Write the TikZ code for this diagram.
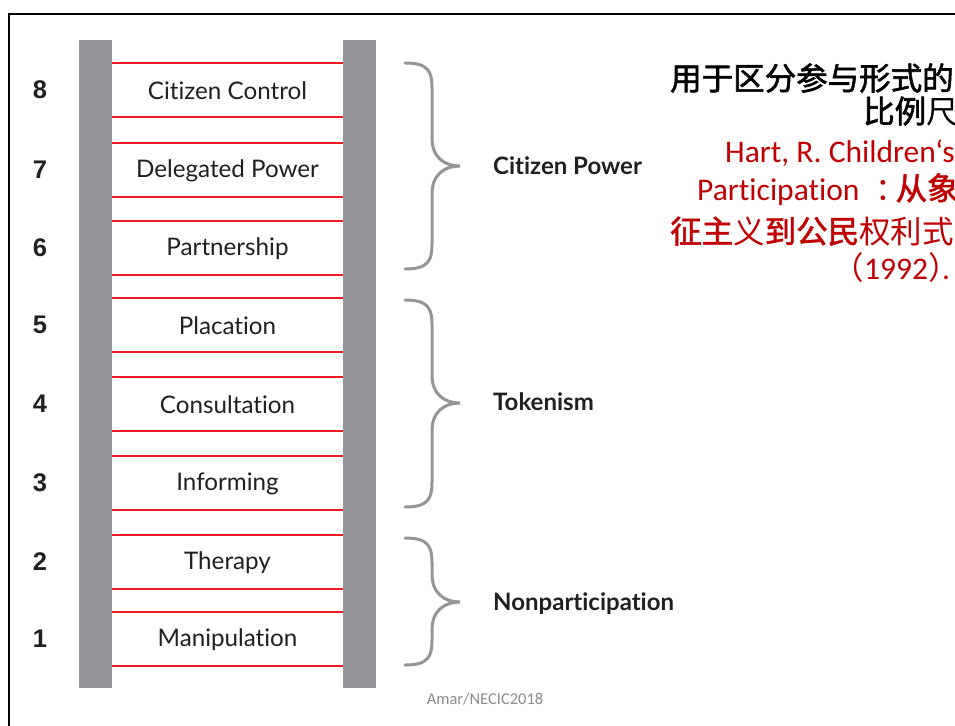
\documentclass[tikz,border=0pt]{standalone}
\usepackage{fontspec}
\newfontfamily\lat[Ligatures=NoCommon]{Lato}
\newfontfamily\numf{Liberation Sans}
\newfontfamily\calf[Ligatures=NoCommon]{Carlito}
\newfontfamily\cjk{Noto Sans CJK SC}
\newfontfamily\cjkb[FakeBold=1.8]{Noto Sans CJK SC}
\definecolor{railgray}{HTML}{939598}
\definecolor{rungred}{HTML}{ED1C24}
\definecolor{txt}{HTML}{231F20}
\definecolor{cred}{HTML}{C00000}
\definecolor{footgray}{HTML}{8C8C8C}
\begin{document}
\begin{tikzpicture}[x=1pt,y=-1pt,
  rail/.style={fill=railgray,draw=none},
  rung/.style={draw=rungred,line width=1.6pt},
  lbl/.style={font=\lat\fontsize{24.2}{28}\selectfont,text=txt,inner sep=0pt},
  num/.style={font=\numf\bfseries\fontsize{25.5}{28}\selectfont,text=txt,inner sep=0pt},
  grp/.style={font=\lat\bfseries\fontsize{24}{28}\selectfont,text=txt,anchor=west,inner sep=0pt},
  bracestyle/.style={draw=railgray,line width=3pt,line cap=round},
  rtxt/.style={anchor=base west,inner sep=0pt,font=\fontsize{31.5}{35}\selectfont}
]
\useasboundingbox (0,0) rectangle (955,725);
\fill[white] (0,0) rectangle (955,725);
% frame
\draw[line width=2.6pt,black] (9,14) rectangle (1000,800);
% rails
\fill[rail] (79,40) rectangle (112,688);
\fill[rail] (343,40) rectangle (376,688);
% rungs, labels, numbers
\foreach \t/\b/\n/\l in {63/117/8/Citizen Control,143/197/7/Delegated Power,221/275/6/Partnership,298/352/5/Placation,377/431/4/Consultation,456/510/3/Informing,535/589/2/Therapy,612/666/1/Manipulation}{
  \draw[rung] (112,\t) -- (343,\t);
  \draw[rung] (112,\b) -- (343,\b);
  \node[lbl] (L\n) at (227.5,{(\t+\b)/2+0.5}) {\l};
  \node[num] (N\n) at (40,{(\t+\b)/2}) {\n};
}
% braces
\foreach \a/\m/\b/\nm in {63/166/269/cp,300/403/507/tk,538/602/665/np}{
  \coordinate (\nm-top) at (405,\a);
  \coordinate (\nm-tip) at (460,\m);
  \coordinate (\nm-bot) at (405,\b);
  \draw[bracestyle] (\nm-top) .. controls (428,\a) and (432,\a+8) .. (432,\a+25)
     -- (432,\m-28) .. controls (432,\m-8) and (445,\m) .. (\nm-tip)
     .. controls (445,\m) and (432,\m+8) .. (432,\m+28)
     -- (432,\b-25) .. controls (432,\b-8) and (428,\b) .. (\nm-bot);
}
\node[grp] (gcp) at (493,166) {Citizen Power};
\node[grp] (gtk) at (493,402) {Tokenism};
\node[grp] (gnp) at (493,604) {Nonparticipation};
% right text
\node[rtxt,text=black] (t1) at (670,90) {\cjkb 用于区分参与形式的};
\node[rtxt,text=black] (t2) at (863,123) {\cjkb 比例\cjk 尺};
\node[rtxt,text=cred] (t3) at (725,162) {\calf Hart, R. Children‘s};
\node[rtxt,text=cred] (t4) at (697,200) {\calf Participation \makebox[29pt][l]{\hspace{9pt}\cjk ：}\cjkb 从象};
\node[rtxt,text=cred] (t5) at (670,243) {\cjkb 征主\cjk 义\cjkb 到公民\cjk 权利式};
\node[rtxt,text=cred] (t6) at (850,279) {\makebox[14pt][r]{\cjk （}\calf 1992\makebox[14pt][l]{\cjk ）}\calf .};
% footer
\node[font=\calf\fontsize{16.5}{19}\selectfont,text=footgray,inner sep=0pt] (ft) at (485,699) {Amar/NECIC2018};
\end{tikzpicture}
\end{document}
